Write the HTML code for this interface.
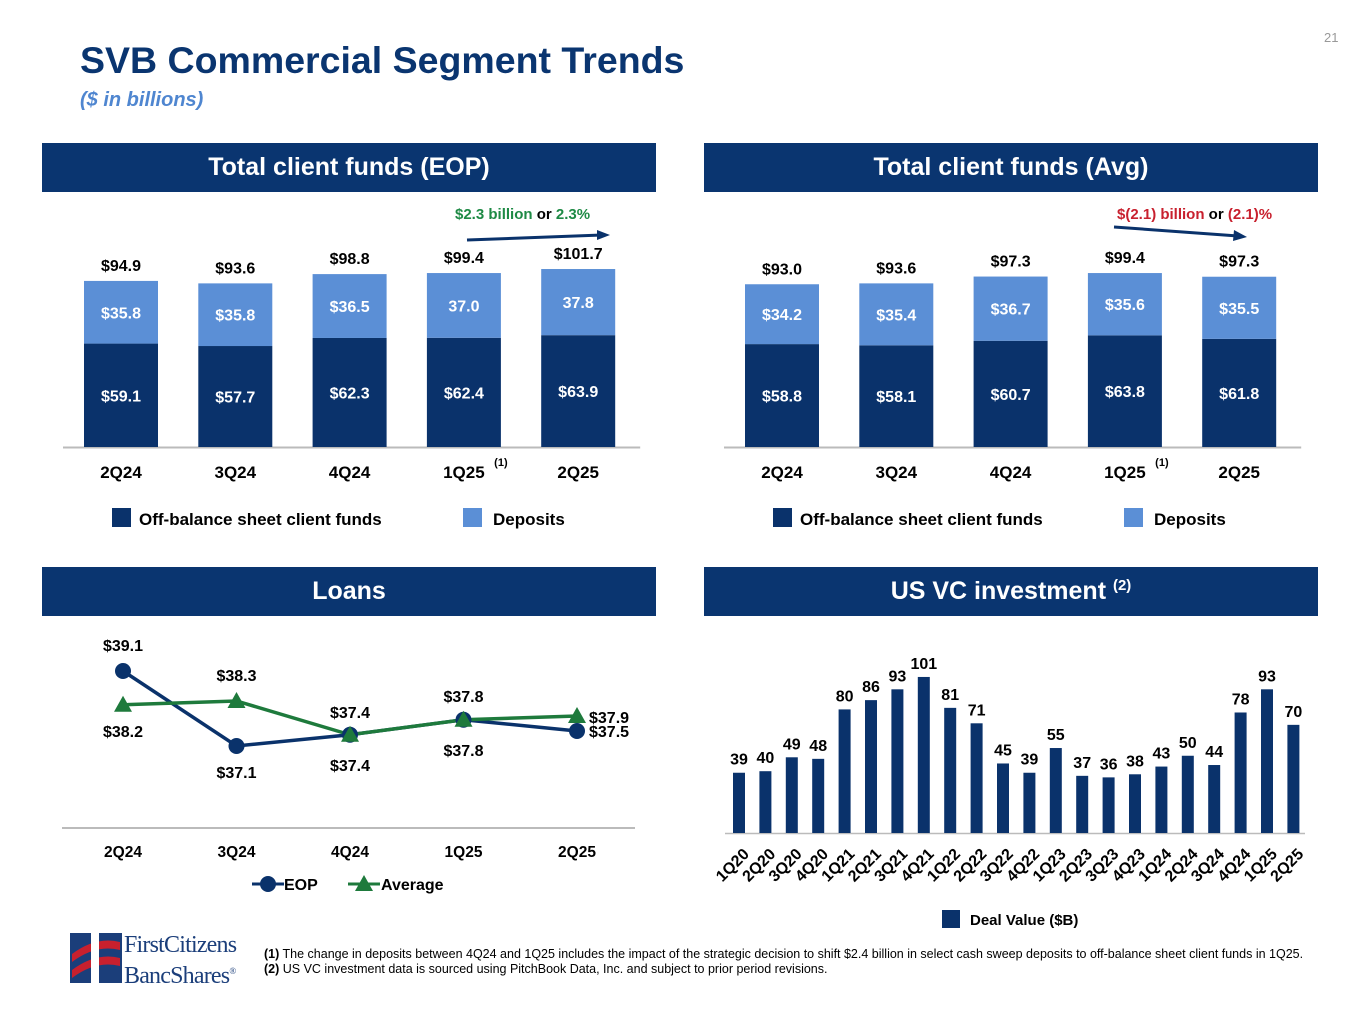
<!DOCTYPE html>
<html><head><meta charset="utf-8"><style>
body{margin:0;width:1365px;height:1024px;background:#fff;font-family:"Liberation Sans",Arial,sans-serif;overflow:hidden;position:relative}
.abs{position:absolute}
.hdr{position:absolute;background:#0a3570;color:#fff;font-weight:bold;font-size:25px;text-align:center;line-height:49px;height:49px;white-space:nowrap}
svg text{font-family:"Liberation Sans",Arial,sans-serif;font-weight:bold}
</style></head><body>
<div class="abs" style="left:80px;top:39px;font-size:37.5px;font-weight:bold;color:#0a3570">SVB Commercial Segment Trends</div>
<div class="abs" style="left:80px;top:89px;font-size:20px;font-weight:bold;font-style:italic;color:#4f86d0">($ in billions)</div>
<div class="abs" style="left:1324px;top:30px;font-size:13px;color:#999">21</div>
<div class="hdr" style="left:42px;top:143px;width:614px">Total client funds (EOP)</div>
<div class="hdr" style="left:704px;top:143px;width:614px">Total client funds (Avg)</div>
<div class="hdr" style="left:42px;top:567px;width:614px">Loans</div>
<div class="hdr" style="left:704px;top:567px;width:614px">US VC investment <span style="font-size:15px;position:relative;top:-9px">(2)</span></div>
<svg id="chart" class="abs" style="left:0;top:0" width="1365" height="1024"></svg>
<div class="abs" style="left:68px;top:930px;width:185px;height:58px">
<svg width="56" height="56" style="position:absolute;left:0;top:0"><rect x="2" y="3" width="52" height="50" fill="#1b3e7a"/><path d="M4 40 Q28 22 52 28 L52 36 Q28 30 4 48Z" fill="#c8202e"/><path d="M4 24 Q28 6 52 12 L52 20 Q28 14 4 32Z" fill="#c8202e"/><rect x="23" y="3" width="8" height="50" fill="#fff"/></svg>
<div class="abs" style="left:56px;top:2px;font-family:'Liberation Serif',serif;font-size:24px;color:#1b3e7a;line-height:26px;white-space:nowrap;letter-spacing:-0.8px">FirstCitizens<br>BancShares<sup style="font-size:9px">®</sup></div></div>
<div class="abs" style="left:264px;top:947px;width:1060px;font-size:12.5px;line-height:15px;color:#000"><b>(1)</b> The change in deposits between 4Q24 and 1Q25 includes the impact of the strategic decision to shift $2.4 billion in select cash sweep deposits to off-balance sheet client funds in 1Q25.<br><b>(2)</b> US VC investment data is sourced using PitchBook Data, Inc. and subject to prior period revisions.</div>
<script>
const quarters=["2Q24","3Q24","4Q24","1Q25","2Q25"];
const eopOff=[59.1,57.7,62.3,62.4,63.9];
const eopDep=[35.8,35.8,36.5,37.0,37.8];
const eopDepLabels=["$35.8","$35.8","$36.5","37.0","37.8"];
const eopTotal=["$94.9","$93.6","$98.8","$99.4","$101.7"];
const avgOff=[58.8,58.1,60.7,63.8,61.8];
const avgDep=[34.2,35.4,36.7,35.6,35.5];
const avgTotal=["$93.0","$93.6","$97.3","$99.4","$97.3"];
const loanEop=[39.1,37.1,37.4,37.8,37.5];
const loanAvg=[38.2,38.3,37.4,37.8,37.9];
const vcCats=["1Q20","2Q20","3Q20","4Q20","1Q21","2Q21","3Q21","4Q21","1Q22","2Q22","3Q22","4Q22","1Q23","2Q23","3Q23","4Q23","1Q24","2Q24","3Q24","4Q24","1Q25","2Q25"];
const vcVals=[39,40,49,48,80,86,93,101,81,71,45,39,55,37,36,38,43,50,44,78,93,70];

const svg=document.getElementById('chart');const NS='http://www.w3.org/2000/svg';
const DARK='#0a326b',LIGHT='#5b8fd6';
function el(t,a,txt){const e=document.createElementNS(NS,t);for(const k in a)e.setAttribute(k,a[k]);if(txt!==undefined)e.textContent=txt;svg.appendChild(e);return e;}
function txt(x,y,s,size,fill,anchor){return el('text',{x:x,y:y,'font-size':size,fill:fill,'text-anchor':anchor||'middle'},s);}

function stacked(x0,off,dep,totals,depLabels,prefix){
  const base=447,k=1.75,step=114.3,w=74;
  const xs=i=>x0+i*step;
  const ax=el('line',{x1:x0-58,x2:x0+4*step+62,y1:base+0.5,y2:base+0.5,stroke:'#bbb','stroke-width':2});
  
  off.forEach((v,i)=>{
    const h1=v*k,h2=dep[i]*k,cx=xs(i);
    const r1=el('rect',{x:cx-w/2,y:base-h1,width:w,height:h1,fill:DARK});
    
    const r2=el('rect',{x:cx-w/2,y:base-h1-h2,width:w,height:h2,fill:LIGHT});
    
    let t=txt(cx,base-h1/2+6,'$'+v.toFixed(1),16,'#fff');
    t=txt(cx,base-h1-h2/2+6,depLabels?depLabels[i]:'$'+dep[i].toFixed(1),16,'#fff');
    t=txt(cx,base-h1-h2-10,totals[i],16,'#000');
    t=txt(cx,478,quarters[i],17,'#000');
  });
  let s=txt(xs(3)+37,466,'(1)',11,'#000');
  let r=el('rect',{x:x0-9,y:508,width:19,height:19,fill:DARK});
  s=txt(x0+18,525,'Off-balance sheet client funds',17,'#000','start');
  r=el('rect',{x:x0+342,y:508,width:19,height:19,fill:LIGHT});
  s=txt(x0+372,525,'Deposits',17,'#000','start');
}
stacked(121,eopOff,eopDep,eopTotal,eopDepLabels,'eop');
stacked(782,avgOff,avgDep,avgTotal,null,'avg');

let a=el('line',{x1:467,y1:240,x2:602,y2:235,stroke:DARK,'stroke-width':3});
a=el('polygon',{points:'597,230 610,235 597,240',fill:DARK});
a=el('text',{x:455,y:219,'font-size':15});
a.innerHTML='<tspan fill="#1e8a45">$2.3 billion</tspan><tspan fill="#000"> or </tspan><tspan fill="#1e8a45">2.3%</tspan>';
a=el('line',{x1:1114,y1:227,x2:1238,y2:236,stroke:DARK,'stroke-width':3});
a=el('polygon',{points:'1234,230 1247,237 1233,241',fill:DARK});
a=el('text',{x:1117,y:219,'font-size':15});
a.innerHTML='<tspan fill="#c8202e">$(2.1) billion</tspan><tspan fill="#000"> or </tspan><tspan fill="#c8202e">(2.1)%</tspan>';

const lx=i=>123+i*113.5, ly=v=>671-(v-39.1)*37.5;
a=el('line',{x1:62,x2:635,y1:828,y2:828,stroke:'#bbb','stroke-width':2});
quarters.forEach((q,i)=>{const t=txt(lx(i),857,q,15.5,'#000');});
a=el('polyline',{points:loanEop.map((v,i)=>lx(i)+','+ly(v)).join(' '),fill:'none',stroke:DARK,'stroke-width':3.5});
a=el('polyline',{points:loanAvg.map((v,i)=>lx(i)+','+ly(v)).join(' '),fill:'none',stroke:'#1e7a3c','stroke-width':3.5});
loanEop.forEach((v,i)=>{const c=el('circle',{cx:lx(i),cy:ly(v),r:8,fill:DARK});});
loanAvg.forEach((v,i)=>{const x=lx(i),y=ly(v);const p=el('polygon',{points:`${x},${y-9} ${x+9},${y+7} ${x-9},${y+7}`,fill:'#1e7a3c'});});
const eopOffY=[-20,32,-17,-18,0],avgOffY=[32,-20,36,36,0];
loanEop.forEach((v,i)=>{let x=lx(i),y=ly(v)+eopOffY[i],anc='middle';if(i==4){x+=12;y=ly(v)+6;anc='start';}const t=txt(x,y,'$'+v.toFixed(1),16,'#000',anc);});
loanAvg.forEach((v,i)=>{let x=lx(i),y=ly(v)+avgOffY[i],anc='middle';if(i==4){x+=12;y=ly(v)+7;anc='start';}const t=txt(x,y,'$'+v.toFixed(1),16,'#000',anc);});
a=el('line',{x1:252,x2:284,y1:884,y2:884,stroke:DARK,'stroke-width':3});
a=el('circle',{cx:268,cy:884,r:8,fill:DARK});
a=txt(284,890,'EOP',16,'#000','start');
a=el('line',{x1:348,x2:380,y1:884,y2:884,stroke:'#1e7a3c','stroke-width':3});
a=el('polygon',{points:'364,875 373,891 355,891',fill:'#1e7a3c'});
a=txt(381,890,'Average',16,'#000','start');

const vx=i=>739+i*26.4, vk=1.545, vb=833;
a=el('line',{x1:725,x2:1305,y1:vb+0.5,y2:vb+0.5,stroke:'#bbb','stroke-width':1.5});
vcVals.forEach((v,i)=>{
  const h=v*vk;const r=el('rect',{x:vx(i)-6,y:vb-h,width:12,height:h,fill:DARK});
  
  let t=txt(vx(i),vb-h-8,String(v),16,'#000');
  const tx=vx(i)+11,ty=vb+22;
  t=el('text',{x:tx,y:ty,'font-size':16,'text-anchor':'end',transform:`rotate(-45 ${tx} ${ty})`},vcCats[i]);
  
});
a=el('rect',{x:942,y:910,width:18,height:18,fill:DARK});
a=txt(970,925,'Deal Value ($B)',15,'#000','start');
</script>
</body></html>
